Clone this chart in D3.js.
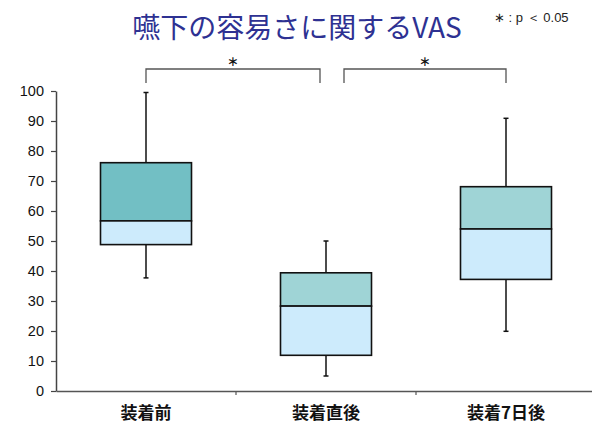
<!DOCTYPE html>
<html>
<head>
<meta charset="utf-8">
<script src="https://cdn.jsdelivr.net/npm/d3@7"></script>
<style>
  html, body { margin: 0; padding: 0; background: #fff; }
  svg { display: block; }
</style>
</head>
<body>
<svg id="chart" width="592" height="430"></svg>
<script>
// Swallowing-ease VAS by period
const categories = ["装着前", "装着直後", "装着7日後"];
const whiskerLow = [37.7, 5, 19.9];
const quartile1 = [48.8, 11.9, 37.2];
const medians = [56.7, 28.3, 54];
const quartile3 = [76.1, 39.4, 68.1];
const whiskerHigh = [99.5, 50, 90.9];
const yTicks = [0, 10, 20, 30, 40, 50, 60, 70, 80, 90, 100];
// significance brackets between category pairs
const comparisons = [[0, 1], [1, 2]];
const sigLabels = ["∗", "∗"];

const upperFill = ["#72bfc4", "#9fd4d6", "#9fd4d6"];
const lowerFill = "#cdebfc";

const svg = d3.select("#chart");
const axisX = 56, axisY = 391, topY = 91, rightX = 596;

const x = d3.scaleBand().domain(categories).range([axisX, rightX]).paddingInner(0).paddingOuter(0);
const y = d3.scaleLinear().domain([0, 100]).range([axisY, topY]);
const boxW = 91;

// Title
svg.append("text")
  .attr("x", 297).attr("y", 38)
  .attr("text-anchor", "middle")
  .attr("font-family", "'Noto Sans CJK JP', sans-serif")
  .attr("font-size", 28)
  .attr("fill", "#2e3192")
  .text("嚥下の容易さに関するVAS");

svg.append("text")
  .attr("x", 494).attr("y", 22)
  .attr("font-family", "'Liberation Sans', Arial, sans-serif")
  .attr("font-size", 13)
  .attr("fill", "#222")
  .text("∗ : p ＜ 0.05");

// Y axis
const yAxis = d3.axisLeft(y).tickValues(yTicks).tickSize(5).tickSizeOuter(0);
const gy = svg.append("g").attr("transform", `translate(${axisX},0)`).call(yAxis);
gy.select(".domain").attr("stroke", "#444").attr("stroke-width", 1.5);
gy.selectAll(".tick line").attr("stroke", "#444").attr("stroke-width", 1.2);
gy.selectAll(".tick text")
  .attr("font-family", "'Liberation Sans', Arial, sans-serif")
  .attr("font-size", 14.5).attr("fill", "#111").attr("x", -12);

// X axis with ticks between categories
const xAxis = d3.axisBottom(x).tickSize(0).tickSizeOuter(0);
const gx = svg.append("g").attr("transform", `translate(0,${axisY})`).call(xAxis);
gx.select(".domain").attr("stroke", "#555").attr("stroke-width", 1.5);
gx.selectAll(".tick text")
  .attr("font-family", "'Noto Sans CJK JP', sans-serif")
  .attr("font-size", 17).attr("font-weight", "bold").attr("fill", "#111")
  .attr("dy", 0).attr("y", 28);
categories.slice(1).forEach(c => {
  gx.append("line")
    .attr("x1", x(c)).attr("x2", x(c)).attr("y1", 0).attr("y2", 4)
    .attr("stroke", "#555").attr("stroke-width", 1.2);
});

// Boxes
const boxes = svg.append("g");
categories.forEach((c, i) => {
  const cx = x(c) + x.bandwidth() / 2;
  const g = boxes.append("g");
  // whiskers
  g.append("line").attr("x1", cx).attr("x2", cx)
    .attr("y1", y(whiskerHigh[i])).attr("y2", y(quartile3[i]))
    .attr("stroke", "#111").attr("stroke-width", 1.5);
  g.append("line").attr("x1", cx).attr("x2", cx)
    .attr("y1", y(quartile1[i])).attr("y2", y(whiskerLow[i]))
    .attr("stroke", "#111").attr("stroke-width", 1.5);
  [whiskerHigh[i], whiskerLow[i]].forEach(v => {
    g.append("line").attr("x1", cx - 2.5).attr("x2", cx + 2.5)
      .attr("y1", y(v)).attr("y2", y(v))
      .attr("stroke", "#111").attr("stroke-width", 1.5);
  });
  // upper half (median to Q3)
  g.append("rect")
    .attr("x", cx - boxW / 2).attr("width", boxW)
    .attr("y", y(quartile3[i])).attr("height", y(medians[i]) - y(quartile3[i]))
    .attr("fill", upperFill[i]).attr("stroke", "#111").attr("stroke-width", 1.6);
  // lower half (Q1 to median)
  g.append("rect")
    .attr("x", cx - boxW / 2).attr("width", boxW)
    .attr("y", y(medians[i])).attr("height", y(quartile1[i]) - y(medians[i]))
    .attr("fill", lowerFill).attr("stroke", "#111").attr("stroke-width", 1.6);
});

// Significance brackets
const bracketTop = 69, bracketLeg = 14, gap = 12;
comparisons.forEach(([a, b], k) => {
  let x1 = x(categories[a]) + x.bandwidth() / 2;
  let x2 = x(categories[b]) + x.bandwidth() / 2;
  if (k === 0) x2 -= gap / 2; else x1 += gap * 1.5;
  svg.append("path")
    .attr("d", `M${x1},${bracketTop + bracketLeg}V${bracketTop}H${x2}V${bracketTop + bracketLeg}`)
    .attr("fill", "none").attr("stroke", "#555").attr("stroke-width", 1.3);
  svg.append("text")
    .attr("x", (x1 + x2) / 2).attr("y", 66)
    .attr("text-anchor", "middle")
    .attr("font-family", "'DejaVu Sans', sans-serif")
    .attr("font-size", 14).attr("fill", "#111")
    .text(sigLabels[k]);
});
</script>
</body>
</html>
